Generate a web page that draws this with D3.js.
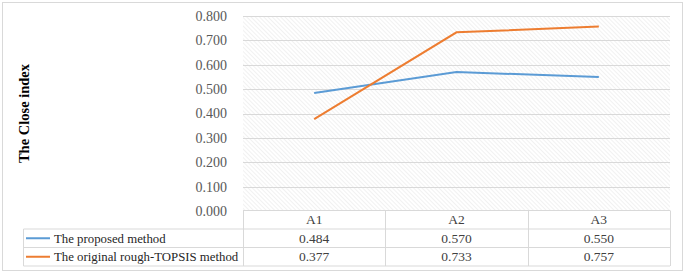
<!DOCTYPE html>
<html lang="en">
<head>
  <meta charset="utf-8">
  <title>The Close index</title>
  <script type="text/javascript" src="https://cdn.jsdelivr.net/npm/d3@7"></script>
  <style>
    body { margin: 0; background: #fff; }
    text { font-family: "Liberation Serif", "Times New Roman", serif; fill: #404040; }
  </style>
</head>
<body>
  <script>
    let categories = ["A1", "A2", "A3"];
    let seriesNames = ["The proposed method", "The original rough-TOPSIS method"];
    let proposed = [0.484, 0.570, 0.550];
    let original = [0.377, 0.733, 0.757];
    let yTicks = [0, 0.1, 0.2, 0.3, 0.4, 0.5, 0.6, 0.7, 0.8];
    let colors = ["#5b9bd5", "#ed7d31"];

    let w = 685, h = 274;
    let plot = { left: 243, right: 670, top: 16, bottom: 211 };
    let rowH = 18.5;
    let fs = "12.8px";

    let svg = d3.select("body").append("svg")
      .attr("width", w)
      .attr("height", h);

    // hatch pattern for the plot area
    let pat = svg.append("defs").append("pattern")
      .attr("id", "hatch")
      .attr("patternUnits", "userSpaceOnUse")
      .attr("width", 3).attr("height", 3)
      .attr("patternTransform", "rotate(-45)");
    pat.append("line")
      .attr("x1", 0).attr("y1", 0).attr("x2", 0).attr("y2", 3)
      .attr("stroke", "#e4e4e4").attr("stroke-width", 1);

    // outer frame
    svg.append("rect")
      .attr("x", 2.5).attr("y", 2.5)
      .attr("width", 680).attr("height", 268)
      .attr("fill", "none").attr("stroke", "#d9d9d9");

    let xScale = d3.scaleBand()
      .domain(categories)
      .range([plot.left, plot.right]);

    let yScale = d3.scaleLinear()
      .domain([0, 0.8])
      .range([plot.bottom, plot.top]);

    svg.append("rect")
      .attr("x", plot.left).attr("y", plot.top)
      .attr("width", plot.right - plot.left)
      .attr("height", plot.bottom - plot.top)
      .attr("fill", "url(#hatch)");

    // gridlines
    svg.append("g")
      .selectAll("line")
      .data(yTicks.slice(1))
      .enter()
      .append("line")
      .attr("x1", plot.left).attr("x2", plot.right)
      .attr("y1", function(d) { return Math.round(yScale(d)) + 0.5; })
      .attr("y2", function(d) { return Math.round(yScale(d)) + 0.5; })
      .attr("stroke", "#d9d9d9");

    // y axis labels
    let yAxis = svg.append("g")
      .attr("transform", "translate(" + (plot.left - 16) + ",0)")
      .call(d3.axisLeft(yScale).tickValues(yTicks).tickFormat(d3.format(".3f")).tickSize(0).tickPadding(0));
    yAxis.select(".domain").remove();
    yAxis.attr("font-family", null);
    yAxis.selectAll("text")
      .style("font-family", "'Liberation Serif', serif")
      .style("font-size", "14px")
      .style("fill", "#595959");

    svg.append("text")
      .attr("transform", "translate(29," + ((plot.top + plot.bottom) / 2) + ") rotate(-90)")
      .attr("text-anchor", "middle")
      .style("font-size", "14.5px")
      .style("font-weight", "bold")
      .style("fill", "#000")
      .text("The Close index");

    // lines
    let line = d3.line()
      .x(function(d, i) { return xScale(categories[i]) + xScale.bandwidth() / 2; })
      .y(function(d) { return yScale(d); });

    [proposed, original].forEach(function(vals, k) {
      svg.append("path")
        .datum(vals)
        .attr("fill", "none")
        .attr("stroke", colors[k])
        .attr("stroke-width", 2)
        .attr("d", line);
    });

    // data table
    let table = svg.append("g").attr("stroke", "#d9d9d9").attr("fill", "none");
    let tLeft = 23.5;
    let y0 = plot.bottom - 0.5;
    let y1 = y0 + rowH, y2 = y1 + rowH, y3 = y2 + rowH;
    table.append("line").attr("x1", plot.left).attr("x2", plot.right).attr("y1", y0).attr("y2", y0);
    table.append("line").attr("x1", tLeft).attr("x2", plot.right).attr("y1", y1).attr("y2", y1);
    table.append("line").attr("x1", tLeft).attr("x2", plot.right).attr("y1", y2).attr("y2", y2);
    table.append("line").attr("x1", tLeft).attr("x2", plot.right).attr("y1", y3).attr("y2", y3);
    table.append("line").attr("x1", tLeft).attr("x2", tLeft).attr("y1", y1).attr("y2", y3);
    table.selectAll(".vline")
      .data(categories.map(function(c) { return xScale(c); }).concat([plot.right]))
      .enter()
      .append("line")
      .attr("x1", function(d) { return Math.round(d) + 0.5; })
      .attr("x2", function(d) { return Math.round(d) + 0.5; })
      .attr("y1", y0).attr("y2", y3);

    svg.append("g")
      .selectAll("text")
      .data(categories)
      .enter()
      .append("text")
      .attr("x", function(d) { return xScale(d) + xScale.bandwidth() / 2; })
      .attr("y", y0 + rowH / 2 + 4.5)
      .attr("text-anchor", "middle")
      .style("font-size", "13.5px")
      .text(function(d) { return d; });

    [proposed, original].forEach(function(vals, k) {
      let ry = (k === 0 ? y1 : y2) + rowH / 2;
      svg.append("line")
        .attr("x1", 26).attr("x2", 50)
        .attr("y1", ry).attr("y2", ry)
        .attr("stroke", colors[k]).attr("stroke-width", 2);
      svg.append("text")
        .attr("x", 54).attr("y", ry + 4.5)
        .style("font-size", fs)
        .style("fill", "#262626")
        .text(seriesNames[k]);
      svg.append("g")
        .selectAll("text")
        .data(vals)
        .enter()
        .append("text")
        .attr("x", function(d, i) { return xScale(categories[i]) + xScale.bandwidth() / 2; })
        .attr("y", ry + 4.5)
        .attr("text-anchor", "middle")
        .style("font-size", "13.5px")
        .text(function(d) { return d3.format(".3f")(d); });
    });
  </script>
</body>
</html>
